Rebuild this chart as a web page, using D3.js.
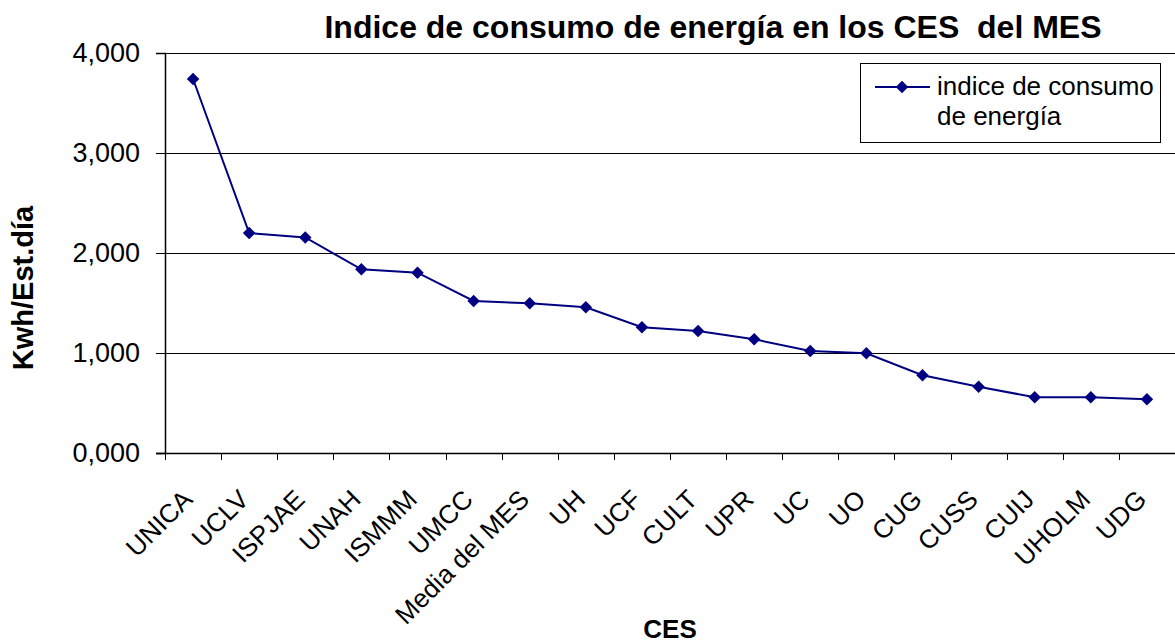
<!DOCTYPE html>
<html>
<head>
<meta charset="utf-8">
<script src="https://cdn.jsdelivr.net/npm/d3@7"></script>
<style>
  body { margin: 0; background: #fff; }
  text { font-family: "Liberation Sans", Arial, sans-serif; }
</style>
</head>
<body>
<div id="chart"></div>
<script>
var categories = ["UNICA", "UCLV", "ISPJAE", "UNAH", "ISMMM", "UMCC", "Media del MES", "UH", "UCF",
                  "CULT", "UPR", "UC", "UO", "CUG", "CUSS", "CUIJ", "UHOLM", "UDG"];
var values = [3740, 2200, 2155, 1837, 1803, 1520, 1497, 1457, 1257,
              1220, 1137, 1020, 997, 777, 663, 557, 557, 537];
var yTicks = [0, 1000, 2000, 3000, 4000];
var yTickLabels = ["0,000", "1,000", "2,000", "3,000", "4,000"];
var seriesName = ["indice de consumo", "de energía"];

var W = 1175, H = 643;
var margin = {top: 53, right: 0, bottom: 190, left: 165},
    width = W - margin.left - margin.right,
    height = H - margin.top - margin.bottom;

var svg = d3.select("#chart")
  .append("svg")
    .attr("width", W)
    .attr("height", H);

var g = svg.append("g")
    .attr("transform", "translate(" + margin.left + "," + margin.top + ")");

var x = d3.scaleBand()
    .domain(categories)
    .range([0, width]);

var y = d3.scaleLinear()
    .domain([0, 4000])
    .range([height, 0]);

// gridlines
g.append("g")
  .selectAll("line")
  .data(yTicks.slice(1))
  .enter()
  .append("line")
    .attr("x1", 0)
    .attr("x2", width)
    .attr("y1", function (d) { return Math.round(y(d)) + 0.5; })
    .attr("y2", function (d) { return Math.round(y(d)) + 0.5; })
    .style("stroke", "#000")
    .style("stroke-width", 1);

// y axis
var yAxis = g.append("g")
    .call(d3.axisLeft(y).tickValues(yTicks).tickSize(9).tickPadding(16)
      .tickFormat(function (d, i) { return yTickLabels[i]; }));
yAxis.select(".domain").style("stroke", "#000").style("stroke-width", 1.5);
yAxis.selectAll("text")
    .style("font-size", "27px")
    .style("fill", "#000");

// x axis, ticks at category boundaries
var xAxis = g.append("g")
    .attr("transform", "translate(0," + height + ")");
xAxis.append("line")
    .attr("x1", -9)
    .attr("x2", width)
    .attr("y1", 0.5)
    .attr("y2", 0.5)
    .style("stroke", "#000")
    .style("stroke-width", 1.5);
xAxis.selectAll(".tk")
  .data(categories)
  .enter()
  .append("line")
    .attr("class", "tk")
    .attr("x1", function (d) { return Math.round(x(d)) + 0.5; })
    .attr("x2", function (d) { return Math.round(x(d)) + 0.5; })
    .attr("y1", 0)
    .attr("y2", 7)
    .style("stroke", "#000");
xAxis.selectAll(".lbl")
  .data(categories)
  .enter()
  .append("text")
    .attr("class", "lbl")
    .attr("text-anchor", "end")
    .attr("transform", function (d) {
      return "translate(" + (x(d) + x.bandwidth() / 2 + 1) + ",48) rotate(-45)";
    })
    .style("font-size", "26px")
    .style("fill", "#000")
    .text(function (d) { return d; });

// line + markers
var line = d3.line()
    .x(function (d, i) { return x(categories[i]) + x.bandwidth() / 2; })
    .y(function (d) { return y(d); });

g.append("path")
    .datum(values)
    .attr("d", line)
    .style("fill", "none")
    .style("stroke", "#000080")
    .style("stroke-width", 2);

var diamond = d3.symbol().type(d3.symbolDiamond2).size(100);
g.append("g")
  .selectAll("path")
  .data(values)
  .enter()
  .append("path")
    .attr("d", diamond)
    .attr("transform", function (d, i) {
      return "translate(" + (x(categories[i]) + x.bandwidth() / 2) + "," + y(d) + ")";
    })
    .style("fill", "#000080");

// legend
var leg = svg.append("g");
leg.append("rect")
    .attr("x", 860.5)
    .attr("y", 63.5)
    .attr("width", 300)
    .attr("height", 79)
    .style("fill", "#fff")
    .style("stroke", "#000");
leg.append("line")
    .attr("x1", 875)
    .attr("x2", 930)
    .attr("y1", 87)
    .attr("y2", 87)
    .style("stroke", "#000080")
    .style("stroke-width", 2);
leg.append("path")
    .attr("d", diamond)
    .attr("transform", "translate(902,87)")
    .style("fill", "#000080");
leg.selectAll("text")
  .data(seriesName)
  .enter()
  .append("text")
    .attr("x", 937)
    .attr("y", function (d, i) { return 95 + i * 30; })
    .style("font-size", "26px")
    .style("fill", "#000")
    .text(function (d) { return d; });

// titles
svg.append("text")
    .attr("x", 713)
    .attr("y", 38)
    .attr("text-anchor", "middle")
    .style("font-size", "32px")
    .style("font-weight", "bold")
    .style("white-space", "pre")
    .text("Indice de consumo de energía en los CES  del MES");

svg.append("text")
    .attr("transform", "translate(33,288) rotate(-90)")
    .attr("text-anchor", "middle")
    .style("font-size", "29px")
    .style("font-weight", "bold")
    .text("Kwh/Est.día");

svg.append("text")
    .attr("x", 670)
    .attr("y", 638)
    .attr("text-anchor", "middle")
    .style("font-size", "26px")
    .style("font-weight", "bold")
    .text("CES");
</script>
</body>
</html>
